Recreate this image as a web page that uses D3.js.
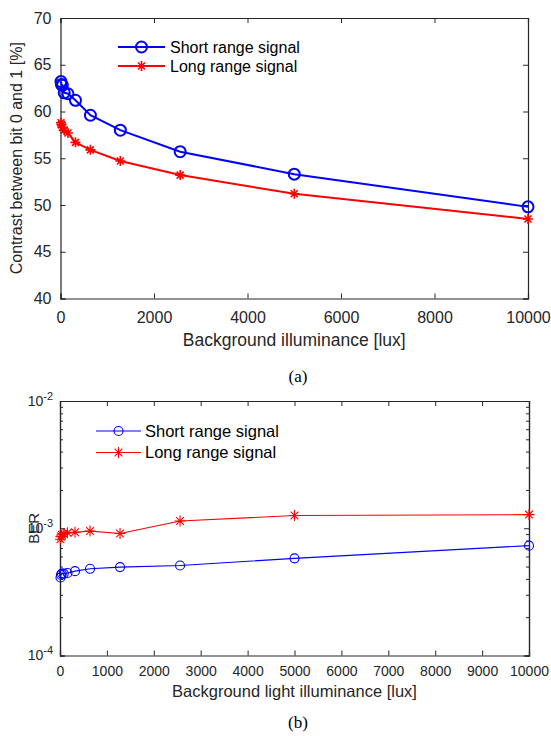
<!DOCTYPE html>
<html><head><meta charset="utf-8">
<script src="https://cdn.jsdelivr.net/npm/d3@7"></script>
<style>body{margin:0;background:#fff}svg{display:block}</style>
</head><body>
<svg id="c" width="551" height="736"></svg>
<script>
const illuminance = [10, 20, 40, 80, 160, 320, 640, 1280, 2560, 5000, 10000];
const contrastShort = [63.2, 62.9, 62.8, 62.0, 61.9, 61.2, 59.6, 58.0, 55.7, 53.3, 49.8];
const contrastLong  = [58.8, 58.6, 58.3, 58.0, 57.7, 56.7, 55.9, 54.7, 53.2, 51.2, 48.5];
const berShort = [4.1e-4, 4.3e-4, 4.4e-4, 4.4e-4, 4.45e-4, 4.6e-4, 4.8e-4, 4.95e-4, 5.1e-4, 5.8e-4, 7.3e-4];
const berLong  = [8.2e-4, 8.6e-4, 8.9e-4, 9.1e-4, 9.2e-4, 9.3e-4, 9.5e-4, 9.1e-4, 1.14e-3, 1.26e-3, 1.28e-3];
const seriesNames = ["Short range signal", "Long range signal"];
const topXTicks = [0, 2000, 4000, 6000, 8000, 10000];
const topYTicks = [40, 45, 50, 55, 60, 65, 70];
const botXTicks = [0, 1000, 2000, 3000, 4000, 5000, 6000, 7000, 8000, 9000, 10000];
const botYExp = [-2, -3, -4];

const svg = d3.select("#c");
const AX = "#262626";
const FONT = "'Liberation Sans', Arial, sans-serif";
const BLUE = "#0000ff", RED = "#ff0000";

function star(g, x, y, s, color, w) {
  const d = `M${x-s},${y}L${x+s},${y}M${x},${y-s}L${x},${y+s}` +
    `M${x-s*0.7},${y-s*0.7}L${x+s*0.7},${y+s*0.7}M${x-s*0.7},${y+s*0.7}L${x+s*0.7},${y-s*0.7}`;
  g.append("path").attr("d", d).attr("stroke", color).attr("stroke-width", w).attr("fill", "none");
}

// ---------- Chart (a) ----------
{
  const L = 60.5, R = 528, T = 18, B = 298.5;
  const x = d3.scaleLinear().domain([0, 10000]).range([L, R]);
  const y = d3.scaleLinear().domain([40, 70]).range([B, T]);
  const g = svg.append("g");
  const xa = g.append("g").attr("transform", `translate(0,${B})`)
    .call(d3.axisBottom(x).tickValues(topXTicks).tickSize(-5).tickPadding(10).tickFormat(d3.format("d")));
  const xt = g.append("g").attr("transform", `translate(0,${T})`)
    .call(d3.axisTop(x).tickValues(topXTicks).tickSize(-5).tickFormat(""));
  const ya = g.append("g").attr("transform", `translate(${L},0)`)
    .call(d3.axisLeft(y).tickValues(topYTicks).tickSize(-5).tickPadding(9));
  const yr = g.append("g").attr("transform", `translate(${R},0)`)
    .call(d3.axisRight(y).tickValues(topYTicks).tickSize(-5).tickFormat(""));
  [xa, xt, ya, yr].forEach(a => {
    a.select(".domain").attr("stroke", AX).attr("stroke-width", 1.2);
    a.selectAll(".tick line").attr("stroke", AX);
    a.selectAll("text").attr("fill", AX).style("font-family", FONT).style("font-size", "16px");
  });
  xa.selectAll("text").attr("dy", "0.9em");
  const line = d3.line().x(d => x(d[0])).y(d => y(d[1]));
  const ds = illuminance.map((v, i) => [v, contrastShort[i]]);
  const dl = illuminance.map((v, i) => [v, contrastLong[i]]);
  g.append("path").attr("d", line(dl)).attr("fill", "none").attr("stroke", RED).attr("stroke-width", 2);
  g.append("path").attr("d", line(ds)).attr("fill", "none").attr("stroke", BLUE).attr("stroke-width", 2);
  dl.forEach(d => star(g, x(d[0]), y(d[1]), 5, RED, 1.6));
  ds.forEach(d => g.append("circle").attr("cx", x(d[0])).attr("cy", y(d[1])).attr("r", 5.5)
    .attr("fill", "none").attr("stroke", BLUE).attr("stroke-width", 2));
  g.append("line").attr("x1", 118).attr("x2", 165).attr("y1", 47).attr("y2", 47).attr("stroke", BLUE).attr("stroke-width", 2);
  g.append("circle").attr("cx", 141.5).attr("cy", 47).attr("r", 5.5).attr("fill", "none").attr("stroke", BLUE).attr("stroke-width", 2);
  g.append("line").attr("x1", 118).attr("x2", 165).attr("y1", 66).attr("y2", 66).attr("stroke", RED).attr("stroke-width", 2);
  star(g, 141.5, 66, 5, RED, 1.6);
  g.append("text").attr("x", 170).attr("y", 47).attr("dy", "0.35em").text(seriesNames[0])
    .style("font-family", FONT).style("font-size", "16px").attr("fill", "#000");
  g.append("text").attr("x", 170).attr("y", 66).attr("dy", "0.35em").text(seriesNames[1])
    .style("font-family", FONT).style("font-size", "16px").attr("fill", "#000");
  g.append("text").attr("x", (L + R) / 2).attr("y", 346).attr("text-anchor", "middle")
    .text("Background illuminance [lux]").style("font-family", FONT).style("font-size", "17.5px").attr("fill", AX);
  g.append("text").attr("transform", `translate(22,${(T + B) / 2}) rotate(-90)`).attr("text-anchor", "middle")
    .text("Contrast between bit 0 and 1 [%]").style("font-family", FONT).style("font-size", "16px").attr("fill", AX);
  g.append("text").attr("x", 298).attr("y", 382).attr("text-anchor", "middle").text("(a)")
    .style("font-family", "'Liberation Serif', 'Times New Roman', serif").style("font-size", "17px").attr("fill", "#000");
}

// ---------- Chart (b) ----------
{
  const L = 60, R = 529, T = 401, B = 655.5;
  const x = d3.scaleLinear().domain([0, 10000]).range([L, R]);
  const y = d3.scaleLog().domain([1e-4, 1e-2]).range([B, T]);
  const g = svg.append("g");
  const minor = [];
  for (let e = -4; e < -2; e++) for (let k = 2; k <= 9; k++) minor.push(k * Math.pow(10, e));
  const xa = g.append("g").attr("transform", `translate(0,${B})`)
    .call(d3.axisBottom(x).tickValues(botXTicks).tickSize(-5).tickPadding(9).tickFormat(d3.format("d")));
  const xt = g.append("g").attr("transform", `translate(0,${T})`)
    .call(d3.axisTop(x).tickValues(botXTicks).tickSize(-5).tickFormat(""));
  const ya = g.append("g").attr("transform", `translate(${L},0)`)
    .call(d3.axisLeft(y).tickValues(botYExp.map(e => Math.pow(10, e))).tickSize(-5).tickFormat(""));
  const yr = g.append("g").attr("transform", `translate(${R},0)`)
    .call(d3.axisRight(y).tickValues(botYExp.map(e => Math.pow(10, e))).tickSize(-5).tickFormat(""));
  const ym = g.append("g").attr("transform", `translate(${L},0)`)
    .call(d3.axisLeft(y).tickValues(minor).tickSize(-3).tickFormat(""));
  const ymr = g.append("g").attr("transform", `translate(${R},0)`)
    .call(d3.axisRight(y).tickValues(minor).tickSize(-3).tickFormat(""));
  [xa, xt, ya, yr, ym, ymr].forEach(a => {
    a.select(".domain").attr("stroke", AX).attr("stroke-width", 1.2);
    a.selectAll(".tick line").attr("stroke", AX);
    a.selectAll("text").attr("fill", AX).style("font-family", FONT).style("font-size", "14px");
  });
  xa.selectAll("text").attr("dy", "0.85em");
  botYExp.forEach(e => {
    const t = g.append("text").attr("x", 53).attr("y", y(Math.pow(10, e))).attr("dy", "0.35em")
      .attr("text-anchor", "end").style("font-family", FONT).style("font-size", "14px").attr("fill", AX);
    t.append("tspan").text("10");
    t.append("tspan").text(String(e)).attr("dy", "-0.55em").style("font-size", "11px");
  });
  const line = d3.line().x(d => x(d[0])).y(d => y(d[1]));
  const ds = illuminance.map((v, i) => [v, berShort[i]]);
  const dl = illuminance.map((v, i) => [v, berLong[i]]);
  g.append("path").attr("d", line(dl)).attr("fill", "none").attr("stroke", RED).attr("stroke-width", 1.1);
  g.append("path").attr("d", line(ds)).attr("fill", "none").attr("stroke", BLUE).attr("stroke-width", 1.1);
  dl.forEach(d => star(g, x(d[0]), y(d[1]), 5.5, RED, 1.1));
  ds.forEach(d => g.append("circle").attr("cx", x(d[0])).attr("cy", y(d[1])).attr("r", 4.5)
    .attr("fill", "none").attr("stroke", BLUE).attr("stroke-width", 1.1));
  g.append("line").attr("x1", 96).attr("x2", 141).attr("y1", 431).attr("y2", 431).attr("stroke", BLUE).attr("stroke-width", 1.1);
  g.append("circle").attr("cx", 118.5).attr("cy", 431).attr("r", 4.5).attr("fill", "none").attr("stroke", BLUE).attr("stroke-width", 1.1);
  g.append("line").attr("x1", 96).attr("x2", 141).attr("y1", 452.5).attr("y2", 452.5).attr("stroke", RED).attr("stroke-width", 1.1);
  star(g, 118.5, 452.5, 5.5, RED, 1.1);
  g.append("text").attr("x", 145).attr("y", 431).attr("dy", "0.35em").text(seriesNames[0])
    .style("font-family", FONT).style("font-size", "16.5px").attr("fill", "#000");
  g.append("text").attr("x", 145).attr("y", 452.5).attr("dy", "0.35em").text(seriesNames[1])
    .style("font-family", FONT).style("font-size", "16.5px").attr("fill", "#000");
  g.append("text").attr("x", (L + R) / 2).attr("y", 697).attr("text-anchor", "middle")
    .text("Background light illuminance [lux]").style("font-family", FONT).style("font-size", "16.5px").attr("fill", AX);
  g.append("text").attr("transform", `translate(39,${(T + B) / 2}) rotate(-90)`).attr("text-anchor", "middle")
    .text("BER").style("font-family", FONT).style("font-size", "15px").attr("fill", AX);
  g.append("text").attr("x", 298).attr("y", 728).attr("text-anchor", "middle").text("(b)")
    .style("font-family", "'Liberation Serif', 'Times New Roman', serif").style("font-size", "17px").attr("fill", "#000");
}
</script>
</body></html>
